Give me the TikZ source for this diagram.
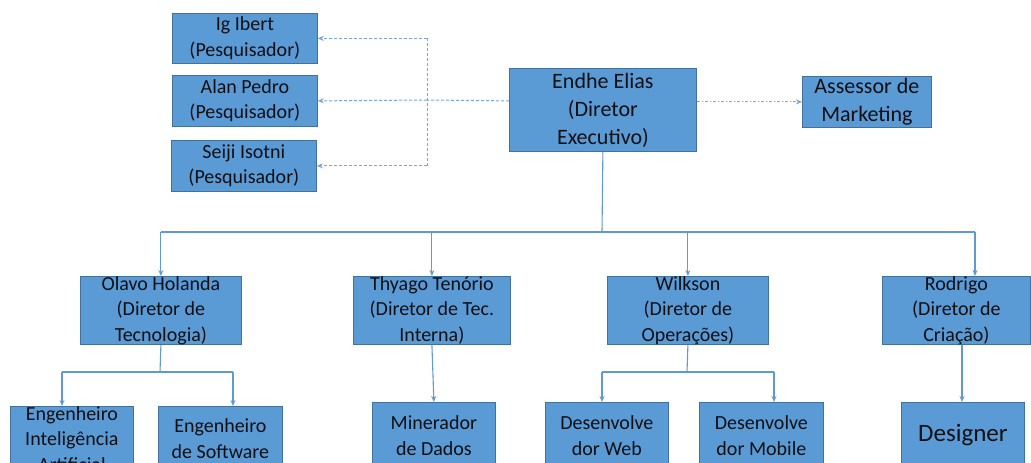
\documentclass[tikz,border=0pt]{standalone}
\usepackage{fontspec}
\setmainfont{Carlito}
\usetikzlibrary{arrows.meta}
\definecolor{boxfill}{RGB}{91,155,213}
\definecolor{boxborder}{RGB}{65,113,156}
\definecolor{linecol}{RGB}{98,153,208}
\definecolor{dashcol}{RGB}{120,165,210}
\definecolor{textcol}{RGB}{15,15,20}
\tikzset{
  box/.style={draw=boxborder, fill=boxfill, line width=0.8pt, inner sep=0pt, align=center,
    text=textcol, anchor=north west, font=\fontsize{20}{25.5}\selectfont},
  bigbox/.style={box, font=\fontsize{22}{28}\selectfont},
  conn/.style={draw=linecol, line width=1.1pt},
  arr/.style={conn, -{Stealth[length=6pt,width=5pt]}},
  dconn/.style={draw=dashcol, line width=1pt, dash pattern=on 3pt off 2pt},
  darr/.style={dconn, -{Stealth[length=6pt,width=5pt]}},
  ddarr/.style={draw=dashcol, line width=1pt, dash pattern=on 3pt off 2pt on 1pt off 2pt, -{Stealth[length=6pt,width=5pt]}}
}
\begin{document}
\begin{tikzpicture}[x=1pt,y=-1pt]
\useasboundingbox (0,0) rectangle (1031,463);
\clip (0,0) rectangle (1031,463);
\fill[white] (0,0) rectangle (1031,463);

% top row
\node[box, minimum width=145, minimum height=50] (ig) at (172,13) {Ig Ibert\\(Pesquisador)};
\node[box, minimum width=145, minimum height=51] (alan) at (172,75) {Alan Pedro\\(Pesquisador)};
\node[box, minimum width=145, minimum height=51] (seiji) at (171,140) {Seiji Isotni\\(Pesquisador)};
\node[bigbox, minimum width=187, minimum height=83] (endhe) at (509,68) {Endhe Elias\\(Diretor\\Executivo)};
\node[bigbox, minimum width=129, minimum height=51] (asse) at (802,76) {Assessor de\\Marketing};

% directors
\node[box, minimum width=161, minimum height=68] (olavo) at (80,276) {Olavo Holanda\\(Diretor de\\Tecnologia)};
\node[box, minimum width=157, minimum height=68] (thyago) at (353,276) {Thyago Tenório\\(Diretor de Tec.\\Interna)};
\node[box, minimum width=161, minimum height=67] (wilk) at (607,276) {Wilkson\\(Diretor de\\Operações)};
\node[box, minimum width=148, minimum height=67] (rod) at (882,276) {Rodrigo\\(Diretor de\\Criação)};

% bottom row
\node[box, minimum width=123, minimum height=64] (engia) at (10,406) {Engenheiro\\Inteligência\\Artificial};
\node[box, minimum width=124, minimum height=64] (engsw) at (158,406) {Engenheiro\\de Software};
\node[box, minimum width=123, minimum height=66] (miner) at (372,402) {Minerador\\de Dados};
\node[box, minimum width=123, minimum height=66] (devweb) at (545,402) {Desenvolve\\dor Web};
\node[box, minimum width=124, minimum height=66] (devmob) at (699,402) {Desenvolve\\dor Mobile};
\node[box, minimum width=123, minimum height=66, font=\fontsize{25}{30}\selectfont] (design) at (901,402) {Designer};

% dashed links to researchers
\coordinate (dj) at (427,100);
\draw[dconn] (endhe.west |- alan.east) -- (dj);
\draw[darr] (dj) -- (alan.east);
\draw[dconn] (dj |- ig.east) -- (dj |- seiji.east);
\draw[darr] (dj |- ig.east) -- (ig.east);
\draw[darr] (dj |- seiji.east) -- (seiji.east);
\draw[ddarr] (endhe.east |- asse.west) -- (asse.west);

% main tree
\coordinate (bus) at (602,232);
\coordinate (rarr) at (975,232);
\draw[conn] (endhe.south) -- (bus);
\draw[conn] (olavo.north |- bus) -- (rarr);
\draw[arr] (olavo.north |- bus) -- (olavo.north);
\draw[arr] (thyago.north |- bus) -- (thyago.north);
\draw[arr] (wilk.north |- bus) -- (wilk.north);
\draw[arr] (rarr) -- (rarr |- rod.north);

% Olavo children
\coordinate (oj) at (160,372);
\coordinate (a1) at (62,406);
\coordinate (a2) at (233,406);
\draw[conn] (olavo.south) -- (oj);
\draw[conn] (a1 |- oj) -- (a2 |- oj);
\draw[arr] (a1 |- oj) -- (a1);
\draw[arr] (a2 |- oj) -- (a2);

% Thyago child
\draw[arr] (thyago.south) -- (miner.north);

% Wilkson children
\coordinate (wj) at (687,372);
\coordinate (a3) at (602,402);
\coordinate (a4) at (774,402);
\draw[conn] (wilk.south) -- (wj);
\draw[conn] (a3 |- wj) -- (a4 |- wj);
\draw[arr] (a3 |- wj) -- (a3);
\draw[arr] (a4 |- wj) -- (a4);

% Rodrigo child
\coordinate (a5) at (962,402);
\draw[arr] (a5 |- rod.south) -- (a5);
\end{tikzpicture}
\end{document}
